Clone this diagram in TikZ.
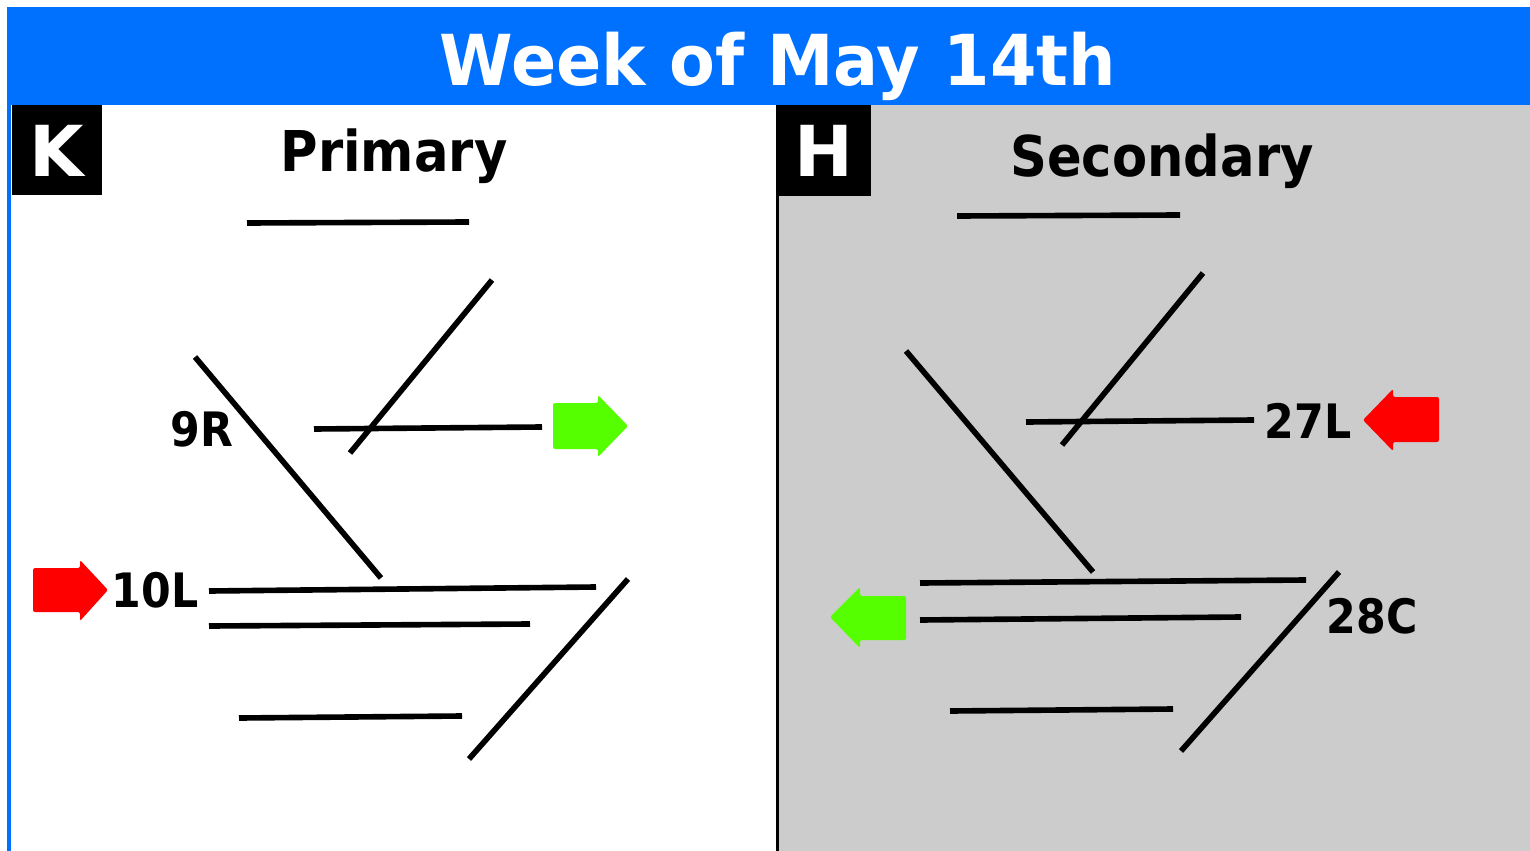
\documentclass[tikz,border=0pt]{standalone}
\usepackage{graphicx}
\usepackage{fontspec}
\setmainfont{DejaVu Sans}
\definecolor{bannerblue}{HTML}{0070FF}
\definecolor{panelgray}{HTML}{CCCCCC}
\definecolor{arrowgreen}{HTML}{55FF00}
\definecolor{arrowred}{HTML}{FF0000}
\begin{document}
\begin{tikzpicture}[x=0.02cm,y=-0.02cm,
  rwy/.style={line width=3.2pt,black},
  lbl/.style={font=\fontsize{27}{30}\selectfont\bfseries,anchor=base,inner sep=0pt},
  boxletter/.style={font=\fontsize{40}{44}\selectfont\bfseries,text=white,anchor=base,inner sep=0pt},
  heading/.style={font=\fontsize{32}{36}\selectfont\bfseries,anchor=base,inner sep=0pt},
  arr/.style={rounded corners=1.2pt}]
\useasboundingbox (0,0) rectangle (1530,851);
\fill[white] (0,0) rectangle (1530,851);
% frame and banner
\fill[bannerblue] (7,7) rectangle (1530,851);
\fill[white] (11,105) rectangle (777,851);
\fill[panelgray] (778,105) rectangle (1530,851);
\draw[line width=1.4pt] (777.5,105) -- (777.5,851);
% title
\node[font=\fontsize{40}{44}\selectfont\bfseries,text=white,anchor=base,inner sep=0pt] (title) at (778,86) {\scalebox{0.95}[1]{Week of May 14th}};
% letter boxes
\fill[black] (12,105) rectangle (102,195);
\node[boxletter] (K) at (57,176) {K};
\fill[black] (778,105) rectangle (871,196);
\node[boxletter] (H) at (824,176) {H};
\node[heading] (prim) at (394,172) {\scalebox{0.91}[1]{Primary}};
\node[heading] (sec) at (1162,176) {\scalebox{0.91}[1]{Secondary}};
% left runways
\draw[rwy] (247,223) -- (469,222);
\draw[rwy] (350,453) -- (492,280);
\draw[rwy] (314,429) -- (542,427);
\draw[rwy] (195,357) -- (381,578);
\draw[rwy] (209,591) -- (596,587);
\draw[rwy] (209,626) -- (530,624);
\draw[rwy] (239,718) -- (462,716);
\draw[rwy] (469,759) -- (628,579);
\node[lbl] (l9R) at (202,446) {\scalebox{0.9}[1]{9R}};
\node[lbl] (l10L) at (155,607) {\scalebox{0.9}[1]{10L}};
% left arrows
\fill[arrowgreen,arr] (553,403) -- (598,403) -- (598,395) -- (628,426) -- (598,457) -- (598,449) -- (553,449) -- cycle;
\fill[arrowred,arr] (33,568) -- (80,568) -- (80,560) -- (108,590) -- (80,621) -- (80,612) -- (33,612) -- cycle;
% right runways
\draw[rwy] (957,216) -- (1180,215);
\draw[rwy] (1062,445) -- (1203,273);
\draw[rwy] (1026,422) -- (1254,420);
\draw[rwy] (906,351) -- (1093,572);
\draw[rwy] (920,583) -- (1306,580);
\draw[rwy] (920,620) -- (1241,617);
\draw[rwy] (950,711) -- (1173,709);
\draw[rwy] (1181,751) -- (1339,572);
\node[lbl] (l27L) at (1308,438) {\scalebox{0.9}[1]{27L}};
\node[lbl] (l28C) at (1372,633) {\scalebox{0.9}[1]{28C}};
% right arrows
\fill[arrowred,arr] (1439,397) -- (1393,397) -- (1393,389) -- (1363,420) -- (1393,451) -- (1393,442) -- (1439,442) -- cycle;
\fill[arrowgreen,arr] (906,596) -- (860,596) -- (860,587) -- (830,617) -- (860,648) -- (860,640) -- (906,640) -- cycle;
\end{tikzpicture}
\end{document}
